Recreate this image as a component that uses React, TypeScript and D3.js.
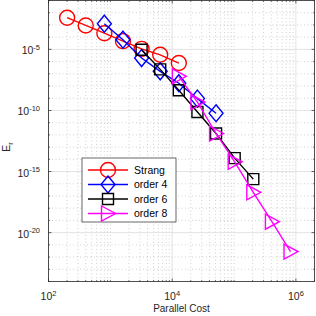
import React from "react";
import * as d3 from "d3";

// parallel cost per method (doubling steps)
const strangCost = [200, 400, 800, 1600, 3200, 6400, 12800];
const strangErr = [3.9e-3, 9.1e-4, 2.1e-4, 4.7e-5, 1.1e-5, 3.6e-6, 7.6e-7];

const order4Cost = [800, 1600, 3200, 6400, 12800, 25600, 51200];
const order4Err = [1.26e-3, 6.2e-5, 1.95e-6, 1.6e-7, 1.7e-8, 9.3e-10, 5.9e-11];

const order6Cost = [3200, 6400, 12800, 25600, 51200, 102400, 204800];
const order6Err = [9.3e-6, 2.3e-7, 4.5e-9, 7.4e-11, 1.3e-12, 1.26e-14, 2.4e-16];

const order8Cost = [12800, 25600, 51200, 102400, 204800, 409600, 819200];
const order8Err = [6.2e-8, 4.9e-10, 1.3e-12, 6.2e-15, 2.0e-17, 7.8e-20, 2.8e-22];

const seriesNames = ["Strang", "order 4", "order 6", "order 8"];
const seriesColors = ["#ff0000", "#0000ff", "#000000", "#ff00ff"];
const seriesMarkers = ["circle", "diamond", "square", "triangle"];

const xTickExp = [2, 4, 6];
const yTickExp = [-20, -15, -10, -5];

const W = 316;
const H = 316;
const left = 48.5;
const right = 314.5;
const top = 0.5;
const bottom = 281.5;
const axisColor = "#262626";
const font = "'Liberation Sans', Arial, Helvetica, sans-serif";

const x = d3.scaleLog().domain([1e2, 2e6]).range([left, right]);
const y = d3.scaleLog().domain([1e-24, 1e-1]).range([bottom, top]);

const markerPath = (kind: string) => {
  switch (kind) {
    case "circle":
      return "M7.5,0A7.5,7.5 0 1,1 -7.5,0A7.5,7.5 0 1,1 7.5,0Z";
    case "diamond":
      return "M0,-8.5L7,0L0,8.5L-7,0Z";
    case "square":
      return "M-5.5,-5.5H5.5V5.5H-5.5Z";
    default:
      return "M-6.5,-7.5L7.5,0L-6.5,7.5Z";
  }
};

const Marker = ({ kind, color, cx, cy }: { kind: string; color: string; cx: number; cy: number }) => (
  <path
    d={markerPath(kind)}
    transform={`translate(${cx},${cy})`}
    fill="none"
    stroke={color}
    strokeWidth={1.4}
  />
);

const App = () => {
  const series = [
    { cost: strangCost, err: strangErr },
    { cost: order4Cost, err: order4Err },
    { cost: order6Cost, err: order6Err },
    { cost: order8Cost, err: order8Err },
  ];

  const line = d3
    .line<[number, number]>()
    .x((d) => x(d[0]))
    .y((d) => y(d[1]));

  // minor grid positions
  const xMinor: number[] = [];
  for (let e = 2; e <= 6; e++) {
    for (let k = 1; k <= 9; k++) {
      const v = k * Math.pow(10, e);
      if (v > 2e6) continue;
      if (k === 1 && xTickExp.includes(e)) continue;
      xMinor.push(v);
    }
  }
  const yMinor: number[] = [];
  for (let e = -24; e <= -1; e++) {
    if (!yTickExp.includes(e)) yMinor.push(Math.pow(10, e));
  }

  const legX = 82;
  const legY = 158;
  const legRow = 14.5;

  return (
    <svg
      width={W}
      height={H}
      style={{ position: "absolute", left: 0, top: 0, background: "#fff" }}
      fontFamily={font}
    >
      <rect x={left} y={top} width={right - left} height={bottom - top} fill="#fff" />

      {/* minor grid */}
      {xMinor.map((v, i) => (
        <line key={"xm" + i} x1={x(v)} x2={x(v)} y1={top} y2={bottom}
          stroke="#b4b4b4" strokeWidth={0.6} strokeDasharray="1,2.5" />
      ))}
      {yMinor.map((v, i) => (
        <line key={"ym" + i} x1={left} x2={right} y1={y(v)} y2={y(v)}
          stroke="#b4b4b4" strokeWidth={0.6} strokeDasharray="1,2.5" />
      ))}
      {/* major grid */}
      {xTickExp.map((e) => (
        <line key={"xg" + e} x1={x(Math.pow(10, e))} x2={x(Math.pow(10, e))} y1={top} y2={bottom}
          stroke="#dcdcdc" strokeWidth={0.8} />
      ))}
      {yTickExp.map((e) => (
        <line key={"yg" + e} x1={left} x2={right} y1={y(Math.pow(10, e))} y2={y(Math.pow(10, e))}
          stroke="#dcdcdc" strokeWidth={0.8} />
      ))}

      {/* ticks */}
      {xMinor.map((v, i) => (
        <g key={"xmt" + i}>
          <line x1={x(v)} x2={x(v)} y1={bottom} y2={bottom - 1.6} stroke={axisColor} strokeWidth={0.6} />
          <line x1={x(v)} x2={x(v)} y1={top} y2={top + 1.6} stroke={axisColor} strokeWidth={0.6} />
        </g>
      ))}
      {xTickExp.map((e) => (
        <g key={"xt" + e}>
          <line x1={x(Math.pow(10, e))} x2={x(Math.pow(10, e))} y1={bottom} y2={bottom - 3} stroke={axisColor} strokeWidth={0.7} />
          <line x1={x(Math.pow(10, e))} x2={x(Math.pow(10, e))} y1={top} y2={top + 3} stroke={axisColor} strokeWidth={0.7} />
        </g>
      ))}
      {yMinor.map((v, i) => (
        <g key={"ymt" + i}>
          <line x1={left} x2={left + 1.6} y1={y(v)} y2={y(v)} stroke={axisColor} strokeWidth={0.6} />
          <line x1={right} x2={right - 1.6} y1={y(v)} y2={y(v)} stroke={axisColor} strokeWidth={0.6} />
        </g>
      ))}
      {yTickExp.map((e) => (
        <g key={"yt" + e}>
          <line x1={left} x2={left + 3} y1={y(Math.pow(10, e))} y2={y(Math.pow(10, e))} stroke={axisColor} strokeWidth={0.7} />
          <line x1={right} x2={right - 3} y1={y(Math.pow(10, e))} y2={y(Math.pow(10, e))} stroke={axisColor} strokeWidth={0.7} />
        </g>
      ))}

      {/* series */}
      {series.map((s, si) => (
        <g key={"s" + si}>
          <path
            d={line(s.cost.map((c, i) => [c, s.err[i]] as [number, number])) || ""}
            fill="none"
            stroke={seriesColors[si]}
            strokeWidth={1.4}
          />
          {s.cost.map((c, i) => (
            <Marker key={i} kind={seriesMarkers[si]} color={seriesColors[si]} cx={x(c)} cy={y(s.err[i])} />
          ))}
        </g>
      ))}

      {/* box */}
      <rect x={left} y={top} width={right - left} height={bottom - top}
        fill="none" stroke={axisColor} strokeWidth={0.8} />

      {/* tick labels */}
      {xTickExp.map((e) => (
        <text key={"xl" + e} x={x(Math.pow(10, e))} y={300} textAnchor="middle"
          fontSize={10.5} fill={axisColor}>
          10<tspan fontSize={7.5} dy={-4.5}>{e}</tspan>
        </text>
      ))}
      {yTickExp.map((e) => (
        <text key={"yl" + e} x={40} y={y(Math.pow(10, e)) + 5} textAnchor="end"
          fontSize={10.5} fill={axisColor}>
          10<tspan fontSize={7.5} dy={-4.5}>{e}</tspan>
        </text>
      ))}

      {/* axis labels */}
      <text x={(left + right) / 2} y={312} textAnchor="middle" fontSize={10} fill={axisColor}>
        Parallel Cost
      </text>
      <text transform={`translate(10,${(top + bottom) / 2 + 6}) rotate(-90)`} textAnchor="middle"
        fontSize={10.5} fill={axisColor}>
        E<tspan fontSize={7.5} dy={2.5}>r</tspan>
      </text>

      {/* legend */}
      <rect x={legX} y={legY} width={94} height={64} fill="#fff" stroke={axisColor} strokeWidth={0.7} />
      {seriesNames.map((name, i) => {
        const ly = legY + 12 + i * legRow;
        return (
          <g key={"lg" + i}>
            <line x1={legX + 6} x2={legX + 46} y1={ly} y2={ly} stroke={seriesColors[i]} strokeWidth={1.4} />
            <Marker kind={seriesMarkers[i]} color={seriesColors[i]} cx={legX + 26} cy={ly} />
            <text x={legX + 52} y={ly + 3.8} fontSize={10.5} fill="#000">{name}</text>
          </g>
        );
      })}
    </svg>
  );
};

export default App;
